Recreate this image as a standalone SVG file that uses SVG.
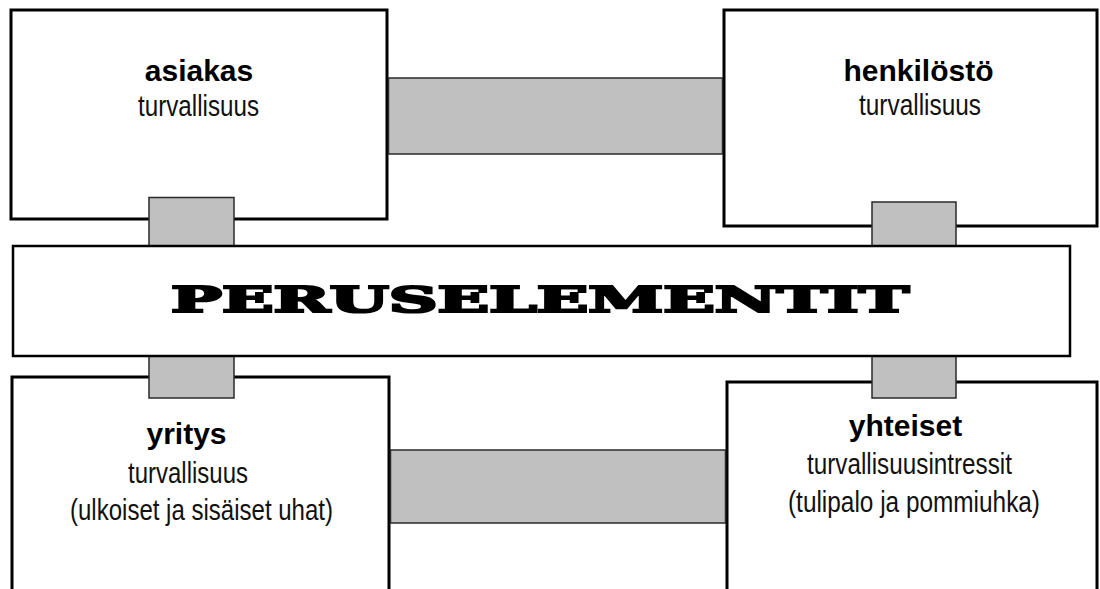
<svg xmlns="http://www.w3.org/2000/svg" width="1100" height="589" viewBox="0 0 1100 589">
<style>
.box{fill:#fff;stroke:#000;stroke-width:3}
.band{fill:#fff;stroke:#000;stroke-width:2.5}
.conn{fill:#c0c0c0;stroke:#2a2a2a;stroke-width:1.5}
.t{font-family:"Liberation Sans",Arial,sans-serif;fill:#000;text-anchor:middle}
.b{font-size:30px;font-weight:bold}
.r{font-size:29px;fill:#111}
.big{font-family:"DejaVu Serif","Liberation Serif",serif;font-weight:bold;font-size:35px;fill:#000;stroke:#000;stroke-width:2.2;stroke-linejoin:miter}
</style>
<rect width="1100" height="589" fill="#fff"/>
<g id="asiakas">
<rect class="box" x="11" y="10" width="376" height="209"/>
<text class="t b" x="199" y="81">asiakas</text>
<text class="t r" x="198.5" y="116" textLength="121" lengthAdjust="spacingAndGlyphs">turvallisuus</text>
</g>
<g id="henkilosto">
<rect class="box" x="724" y="10" width="373" height="216"/>
<text class="t b" x="918.5" y="81">henkilöstö</text>
<text class="t r" x="920" y="115" textLength="122" lengthAdjust="spacingAndGlyphs">turvallisuus</text>
</g>
<g id="yritys">
<rect class="box" x="12" y="377" width="377" height="230"/>
<text class="t b" x="186.5" y="444">yritys</text>
<text class="t r" x="188" y="483" textLength="120" lengthAdjust="spacingAndGlyphs">turvallisuus</text>
<text class="t r" x="201.5" y="520" textLength="263" lengthAdjust="spacingAndGlyphs">(ulkoiset ja sisäiset uhat)</text>
</g>
<g id="yhteiset">
<rect class="box" x="727" y="382" width="370" height="225"/>
<text class="t b" x="905.5" y="436">yhteiset</text>
<text class="t r" x="909.5" y="474" textLength="205" lengthAdjust="spacingAndGlyphs">turvallisuusintressit</text>
<text class="t r" x="914" y="512" textLength="252" lengthAdjust="spacingAndGlyphs">(tulipalo ja pommiuhka)</text>
</g>
<g id="connectors">
<rect class="conn" x="388.5" y="78" width="334" height="76"/>
<rect class="conn" x="390.5" y="450" width="335" height="73"/>
<rect class="conn" x="149" y="197.5" width="85" height="50"/>
<rect class="conn" x="872" y="202" width="84" height="46"/>
<rect class="conn" x="149" y="354" width="85" height="44"/>
<rect class="conn" x="872" y="354" width="84" height="44"/>
</g>
<g id="peruselementit">
<rect class="band" x="13" y="246" width="1057" height="110"/>
<text class="big" x="171" y="312" textLength="738" lengthAdjust="spacingAndGlyphs">PERUSELEMENTIT</text>
</g>
</svg>
